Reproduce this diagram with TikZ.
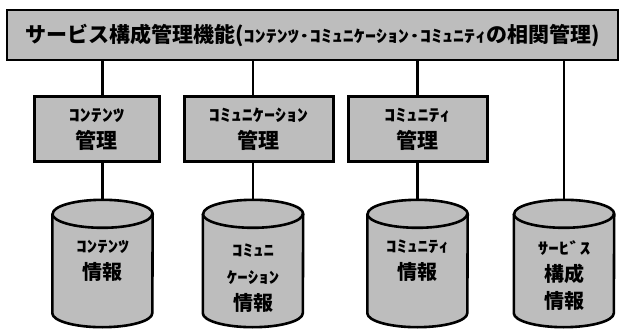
\documentclass[tikz,border=0pt]{standalone}
\usepackage{fontspec}
\usepackage{graphicx}
\newfontfamily\cjk{Noto Sans CJK JP}
\definecolor{ht}{gray}{0.74}
\newcommand{\hw}[1]{\scalebox{1.05}[0.8]{#1}}
\tikzset{
  bar/.style={draw, line width=2.6pt, fill=ht, minimum width=611pt, minimum height=50pt, inner sep=0pt,
    font=\cjk\bfseries\fontsize{21}{24}\selectfont},
  mgmt/.style={draw, line width=3pt, fill=ht, minimum height=65pt, inner sep=0pt, align=center,
    font=\cjk\bfseries\fontsize{21}{27}\selectfont},
  dbbox/.style={minimum width=100pt, minimum height=127pt, inner sep=0pt},
  dbline/.style={draw, line width=2.6pt, fill=ht, line join=round},
  dbtext/.style={align=center, inner sep=0pt, font=\cjk\bfseries\fontsize{20}{27}\selectfont},
  link/.style={line width=2.2pt}
}
\newcommand{\cyl}[1]{%
  \path[dbline] ([yshift=-14pt]#1.north west) -- ([yshift=14pt]#1.south west)
    arc[start angle=180, end angle=360, x radius=50pt, y radius=14pt]
    -- ([yshift=-14pt]#1.north east)
    arc[start angle=0, end angle=180, x radius=50pt, y radius=14pt] -- cycle;
  \draw[line width=2.6pt] ([yshift=-14pt]#1.north west)
    arc[start angle=180, end angle=360, x radius=50pt, y radius=14pt];}
\begin{document}
\begin{tikzpicture}[x=1pt,y=1pt]
\useasboundingbox (0,0) rectangle (620,329);
% cylinders
\node[dbbox] (c1) at (102.5,65.5) {};
\node[dbbox] (c2) at (253,65.5) {};
\node[dbbox] (c3) at (417.5,65.5) {};
\node[dbbox] (c4) at (564,65.5) {};
\cyl{c1}\cyl{c2}\cyl{c3}\cyl{c4}
% top bar
\node[bar] (top) at (312.5,294) {サービス構成管理機能(\hw{ｺﾝﾃﾝﾂ･ｺﾐｭﾆｹｰｼｮﾝ･ｺﾐｭﾆﾃｨ}の相関管理)};
% connectors (drawn before boxes)
\draw[link] (c1.north) -- (c1.north |- top.south);
\draw[link] (c2.north) -- (c2.north |- top.south);
\draw[link] (c3.north) -- (c3.north |- top.south);
\draw[link] (c4.north) -- (c4.north |- top.south);
% management boxes
\node[mgmt, minimum width=125pt] (m1) at (96.5,199.5) {\hw{ｺﾝﾃﾝﾂ}\\管理};
\node[mgmt, minimum width=149pt] (m2) at (258.5,199.5) {\hw{ｺﾐｭﾆｹｰｼｮﾝ}\\管理};
\node[mgmt, minimum width=139pt] (m3) at (417.5,199.5) {\hw{ｺﾐｭﾆﾃｨ}\\管理};
% cylinder texts
\node[dbtext] (t1) at (c1.center |- 0,68.5) {\hw{ｺﾝﾃﾝﾂ}\\情報};
\node[dbtext] (t2) at (c2.center |- 0,51) {\hw{ｺﾐｭﾆ}\\\hw{ｹｰｼｮﾝ}\\情報};
\node[dbtext] (t3) at (c3.center |- 0,68) {\hw{ｺﾐｭﾆﾃｨ}\\情報};
\node[dbtext] (t4) at (c4.center |- 0,53) {\hw{ｻｰﾋﾞｽ}\\構成\\情報};
\end{tikzpicture}
\end{document}
